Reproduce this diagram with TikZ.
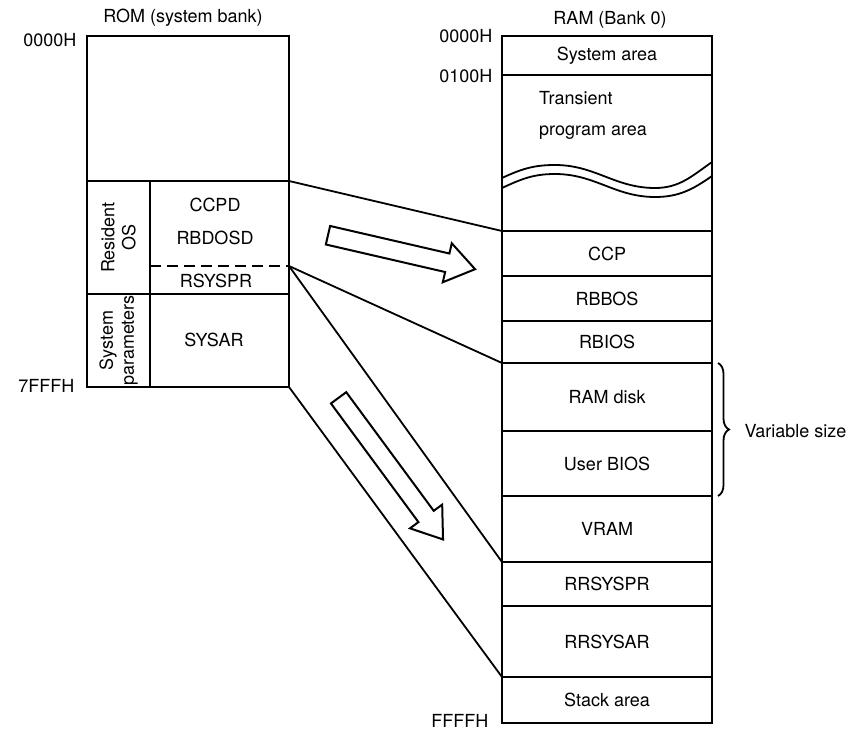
\documentclass[tikz,border=0pt]{standalone}
\usepackage{fontspec}
\setmainfont{TeX Gyre Heros}
\usetikzlibrary{positioning, shapes.arrows, decorations.pathreplacing}

\begin{document}
\begin{tikzpicture}[x=1pt, y=-1pt, font=\fontsize{18}{20}\selectfont,
    romcell/.style={draw, line width=2.4pt, inner sep=0pt, outer sep=0pt, anchor=north west},
    cell/.style={draw, line width=2.4pt, inner sep=0pt, outer sep=0pt, minimum width=210pt},
    link/.style={line width=1.8pt},
    bigarrow/.style={draw, line width=2pt, single arrow, anchor=tail, inner sep=8.5pt,
        single arrow head extend=10.5pt, single arrow tip angle=70}]
    \useasboundingbox (0,0) rectangle (850,730);

    \node[romcell, minimum width=202pt, minimum height=145pt] (romfree) at (87,36) {};
    \node[romcell, minimum width=63pt, minimum height=113pt] (resos) at (87,181) {};
    \node[romcell, minimum width=139pt, minimum height=113pt] (resdata) at (150,181) {};
    \node[romcell, minimum width=63pt, minimum height=93pt] (sysparm) at (87,294) {};
    \node[romcell, minimum width=139pt, minimum height=93pt] (sysar) at (150,294) {};
    \coordinate (cut) at (289,266);
    \draw[line width=2.4pt, dash pattern=on 11pt off 6pt] (resdata.west |- cut) -- (cut);

    \node[rotate=90, align=center] (resoslbl) at (resos.center) {Resident\\[1pt]OS};
    \node[rotate=90, align=center] (sysparmlbl) at (sysparm.center) {System\\[1pt]parameters};
    \node (ccpd) at (215,205) {CCPD};
    \node (rbdosd) at (215,238) {RBDOSD};
    \node (rsyspr) at (216,281) {RSYSPR};
    \node (sysarlbl) at (214,340) {SYSAR};
    \node (romtitle) at (183,18) {ROM (system bank)};
    \node[anchor=east] (romtopaddr) at (80,40) {0000H};
    \node[anchor=east] (romendaddr) at (78,386) {7FFFH};

    \node[cell, anchor=north west, minimum height=39pt] (sysarea) at (502,36) {System area};
    \node[cell, below=0pt of sysarea, minimum height=156pt] (tpa) {};
    \node[cell, below=0pt of tpa, minimum height=45pt] (ccp) {CCP};
    \node[cell, below=0pt of ccp, minimum height=45pt] (rbbos) {RBBOS};
    \node[cell, below=0pt of rbbos, minimum height=42pt] (rbios) {RBIOS};
    \node[cell, below=0pt of rbios, minimum height=68pt] (ramdisk) {RAM disk};
    \node[cell, below=0pt of ramdisk, minimum height=65pt] (userbios) {User BIOS};
    \node[cell, below=0pt of userbios, minimum height=66pt] (vram) {VRAM};
    \node[cell, below=0pt of vram, minimum height=44pt] (rrsyspr) {RRSYSPR};
    \node[cell, below=0pt of rrsyspr, minimum height=71pt] (rrsysar) {RRSYSAR};
    \node[cell, below=0pt of rrsysar, minimum height=46pt] (stack) {Stack area};

    \node[anchor=north west, align=left, inner sep=0pt] (tpalbl) at (539,91) {Transient\\[11pt]program area};
    \draw[link] (502,178) to[out=25,in=180] (555,165) to[out=0,in=180] (655,188) to[out=0,in=215] (712,162);
    \draw[link] (502,188) to[out=25,in=180] (555,174) to[out=0,in=180] (655,197) to[out=0,in=215] (712,176);

    \node (ramtitle) at (610,20) {RAM (Bank 0)};
    \node[anchor=east] (ramtopaddr) at (496,36) {0000H};
    \node[anchor=east] (tpaaddr) at (496,76) {0100H};
    \node[anchor=east] (ramendaddr) at (492,721) {FFFFH};

    \draw[link] (resdata.north east) -- (ccp.north west);
    \draw[link] (cut) -- (rbios.south west);
    \draw[link] (cut) -- (vram.south west);
    \draw[link] (sysar.south east) -- (rrsysar.south west);

    \node[bigarrow, minimum height=151pt, rotate=-13] (copyarrow) at (327,235) {};
    \node[bigarrow, minimum height=176pt, rotate=-53.6] (loadarrow) at (338,397) {};

    \draw[link, decorate, decoration={brace, amplitude=11pt}]
        ([xshift=6pt]ramdisk.north east) -- ([xshift=6pt]userbios.south east);
    \node[anchor=west] (varsize) at ([xshift=29pt]ramdisk.south east) {Variable size};
\end{tikzpicture}
\end{document}
